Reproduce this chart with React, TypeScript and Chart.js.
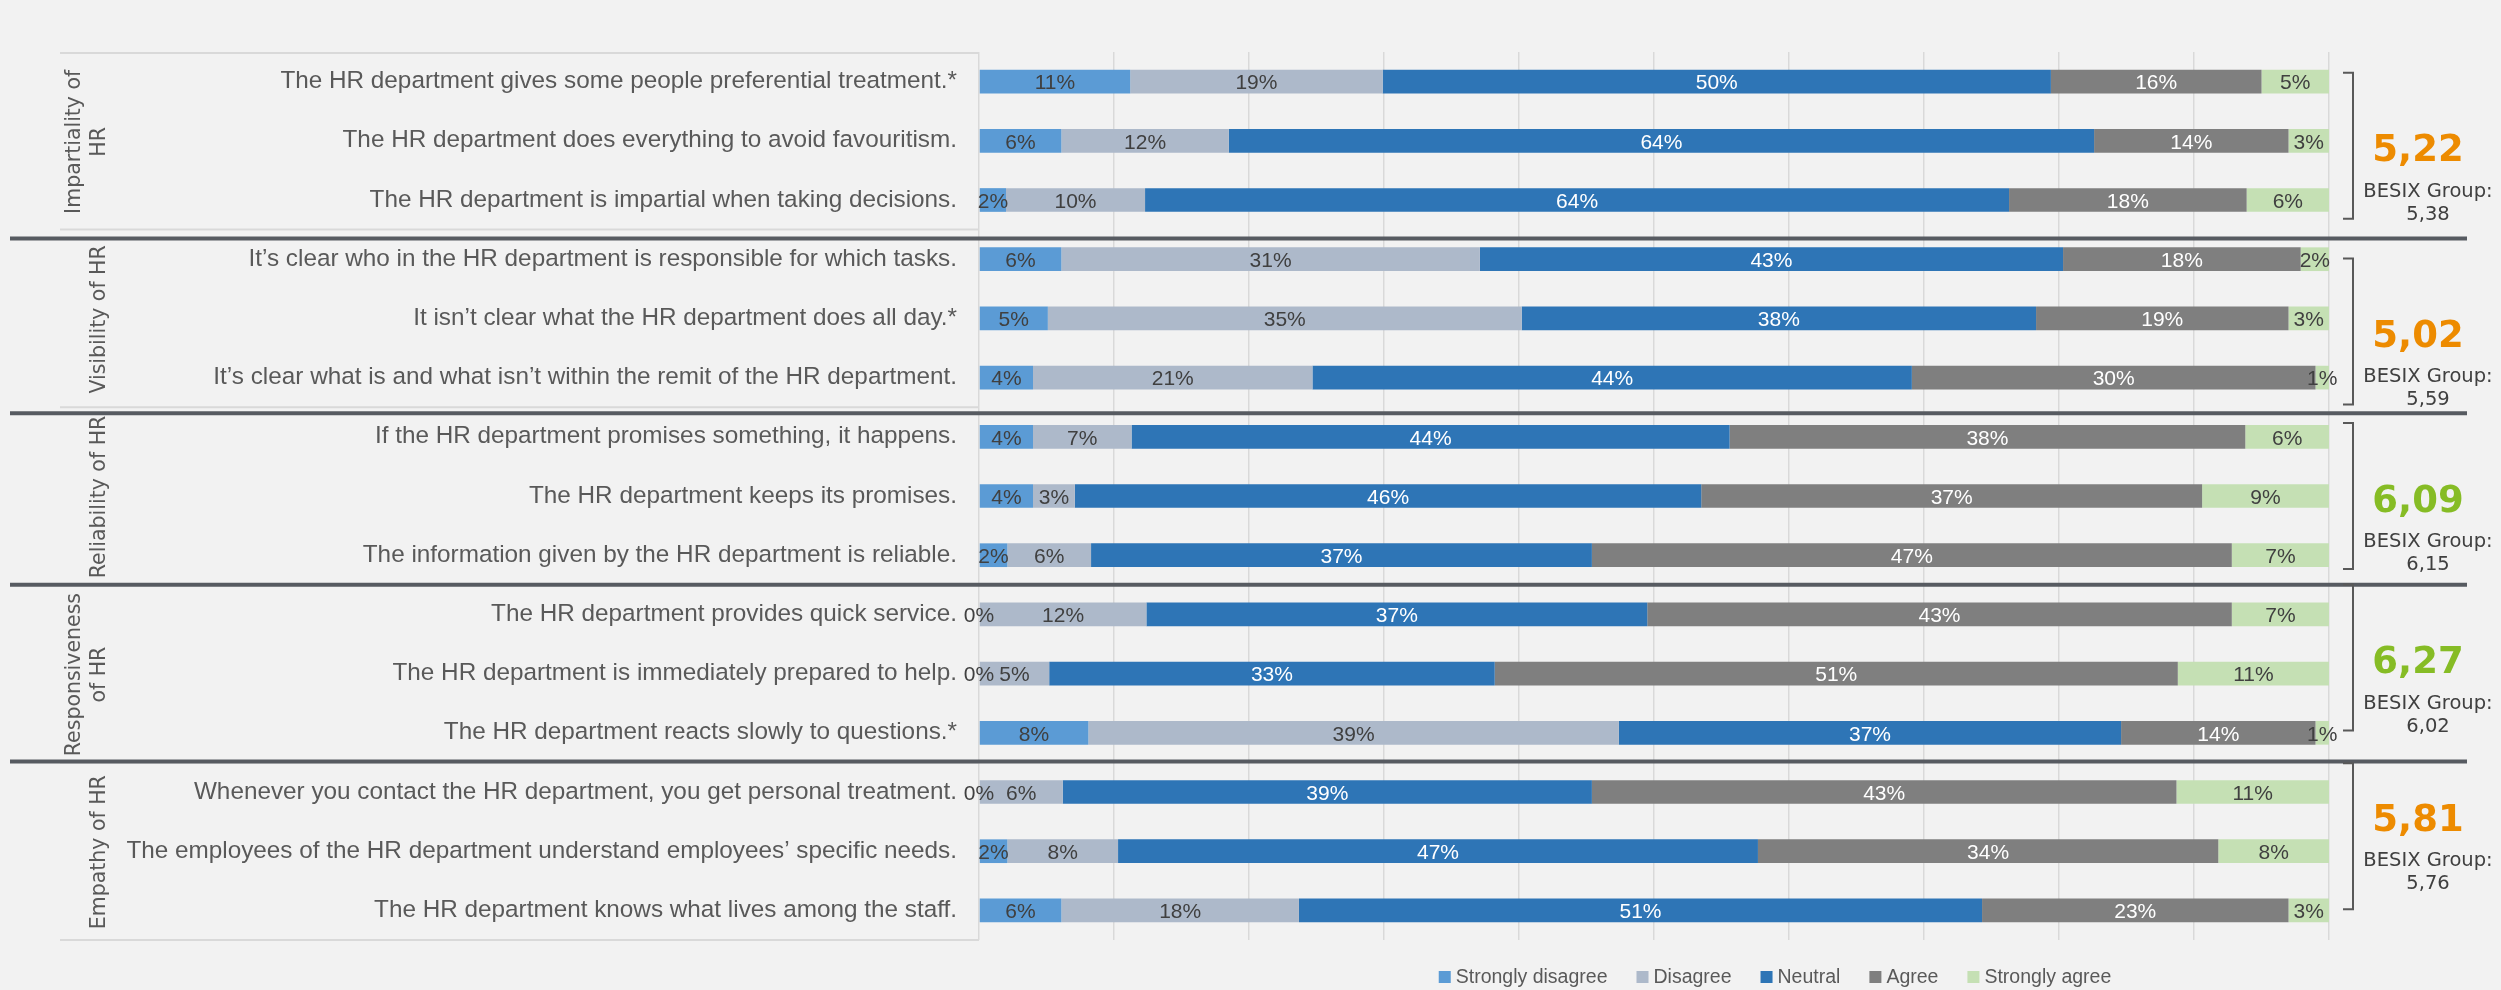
import React, { useEffect, useRef } from "react";
import { Chart, registerables } from "chart.js";

Chart.register(...registerables);

// ---------- DATA ----------
const STATEMENTS = [
  "The HR department gives some people preferential treatment.*",
  "The HR department does everything to avoid favouritism.",
  "The HR department is impartial when taking decisions.",
  "It\u2019s clear who in the HR department is responsible for which tasks.",
  "It isn\u2019t clear what the HR department does all day.*",
  "It\u2019s clear what is and what isn\u2019t within the remit of the HR department.",
  "If the HR department promises something, it happens.",
  "The HR department keeps its promises.",
  "The information given by the HR department is reliable.",
  "The HR department provides quick service.",
  "The HR department is immediately prepared to help.",
  "The HR department reacts slowly to questions.*",
  "Whenever you contact the HR department, you get personal treatment.",
  "The employees of the HR department understand employees\u2019 specific needs.",
  "The HR department knows what lives among the staff.",
];

const GROUP_LABELS = [
  ["Impartiality of", "HR"],
  ["Visibility of HR"],
  ["Reliability of HR"],
  ["Responsiveness", "of HR"],
  ["Empathy of HR"],
];
const GROUP_SIZES = [3, 3, 3, 3, 3];

const SERIES_NAMES = ["Strongly disagree", "Disagree", "Neutral", "Agree", "Strongly agree"];

const STRONGLY_DISAGREE = [11.2, 6.1, 2.0, 6.1, 5.1, 4.0, 4.0, 4.0, 2.1, 0, 0, 8.1, 0, 2.1, 6.1];
const DISAGREE = [18.7, 12.4, 10.3, 31.0, 35.1, 20.7, 7.3, 3.1, 6.2, 12.4, 5.2, 39.3, 6.2, 8.2, 17.6];
const NEUTRAL = [49.5, 64.1, 64.0, 43.2, 38.1, 44.4, 44.3, 46.4, 37.1, 37.1, 33.0, 37.2, 39.2, 47.4, 50.6];
const AGREE = [15.6, 14.4, 17.6, 17.6, 18.7, 29.9, 38.2, 37.1, 47.4, 43.3, 50.6, 14.4, 43.3, 34.1, 22.7];
const STRONGLY_AGREE = [5.0, 3.0, 6.1, 2.1, 3.0, 1.0, 6.2, 9.4, 7.2, 7.2, 11.2, 1.0, 11.3, 8.2, 3.0];

const GROUP_SCORES = ["5,22", "5,02", "6,09", "6,27", "5,81"];
const BENCHMARK_LABEL = "BESIX Group:";
const BENCHMARK_SCORES = ["5,38", "5,59", "6,15", "6,02", "5,76"];
const SCORE_THRESHOLD = 6;

// ---------- STYLE / LAYOUT ----------
const SERIES_COLORS = ["#5b9bd5", "#adb9ca", "#2e75b6", "#7f7f7f", "#c5e0b4"];
const LABEL_COLORS = ["#404040", "#404040", "#ffffff", "#ffffff", "#404040"];
const ORANGE = "#ed8b00";
const GREEN = "#86bc25";
const TEXT_GRAY = "#595959";
const DARK_TEXT = "#404040";
const SANS = '"Liberation Sans", Arial, sans-serif';
const VERDANA = '"DejaVu Sans", Verdana, sans-serif';

// small per-group pixel shifts of the right-hand decorations
const SEPARATOR_SHIFT = [9, 6, 0, -1];
const BRACKET_SHIFT = [5, 13, 0, -16, -15];
const SCORE_SHIFT = [7, 15, 2, -14, -34];

const W = 2501;
const H = 990;

function groupInfo(chart: any) {
  const y = chart.scales.y;
  const res: { start: number; end: number; top: number; bottom: number; mid: number }[] = [];
  let idx = 0;
  const half = (y.getPixelForValue(1) - y.getPixelForValue(0)) / 2;
  GROUP_SIZES.forEach((n) => {
    const start = idx;
    const end = idx + n - 1;
    const top = y.getPixelForValue(start) - half;
    const bottom = y.getPixelForValue(end) + half;
    res.push({ start, end, top, bottom, mid: (top + bottom) / 2 });
    idx += n;
  });
  return res;
}

const overlayPlugin = {
  id: "overlay",
  afterDatasetsDraw(chart: any) {
    const ctx = chart.ctx;
    ctx.save();
    ctx.font = `21px ${SANS}`;
    ctx.textAlign = "center";
    ctx.textBaseline = "middle";
    chart.data.datasets.forEach((ds: any, di: number) => {
      const meta = chart.getDatasetMeta(di);
      meta.data.forEach((el: any, i: number) => {
        const v = ds.data[i];
        const p = el.getProps(["x", "y", "base"], true);
        ctx.fillStyle = LABEL_COLORS[di];
        ctx.fillText(Math.round(v) + "%", (p.x + p.base) / 2, p.y + 2);
      });
    });
    ctx.restore();
  },
  afterDraw(chart: any) {
    const ctx = chart.ctx;
    const area = chart.chartArea;
    const groups = groupInfo(chart);
    ctx.save();

    // light label box (multi-level category axis frame)
    ctx.strokeStyle = "#d9d9d9";
    ctx.lineWidth = 2;
    const boxLeft = 60;
    ctx.beginPath();
    ctx.moveTo(boxLeft, area.top + 1);
    ctx.lineTo(area.left, area.top + 1);
    groups.forEach((g) => {
      ctx.moveTo(boxLeft, g.bottom);
      ctx.lineTo(area.left, g.bottom);
    });
    ctx.stroke();

    // group labels (rotated)
    ctx.fillStyle = TEXT_GRAY;
    ctx.font = `20.5px ${VERDANA}`;
    ctx.textAlign = "center";
    ctx.textBaseline = "alphabetic";
    groups.forEach((g, gi) => {
      const lines = GROUP_LABELS[gi];
      lines.forEach((line, li) => {
        const xBase = 105 - (lines.length - 1 - li) * 25;
        ctx.save();
        ctx.translate(xBase, g.mid + 1);
        ctx.rotate(-Math.PI / 2);
        ctx.fillText(line, 0, 0);
        ctx.restore();
      });
    });

    // dark separators between groups
    ctx.strokeStyle = "#575b61";
    ctx.lineWidth = 4;
    groups.slice(0, -1).forEach((g, gi) => {
      const yy = g.bottom + SEPARATOR_SHIFT[gi];
      ctx.beginPath();
      ctx.moveTo(10, yy);
      ctx.lineTo(area.right + 138, yy);
      ctx.stroke();
    });

    // brackets
    ctx.strokeStyle = TEXT_GRAY;
    ctx.lineWidth = 2;
    const bx = area.right + 24;
    groups.forEach((g, gi) => {
      const c = g.mid + BRACKET_SHIFT[gi];
      const t = c - 73;
      const b = c + 73;
      ctx.beginPath();
      ctx.moveTo(bx - 10, t);
      ctx.lineTo(bx, t);
      ctx.lineTo(bx, b);
      ctx.lineTo(bx - 10, b);
      ctx.stroke();
    });

    // scores
    groups.forEach((g, gi) => {
      const c = g.mid + SCORE_SHIFT[gi];
      const val = parseFloat(GROUP_SCORES[gi].replace(",", "."));
      ctx.fillStyle = val >= SCORE_THRESHOLD ? GREEN : ORANGE;
      ctx.font = `bold 37px ${VERDANA}`;
      ctx.textAlign = "center";
      ctx.textBaseline = "alphabetic";
      ctx.fillText(GROUP_SCORES[gi], area.right + 89, c + 13.5);
      ctx.fillStyle = DARK_TEXT;
      ctx.font = `19.5px ${VERDANA}`;
      ctx.fillText(BENCHMARK_LABEL, area.right + 99, c + 49);
      ctx.fillText(BENCHMARK_SCORES[gi], area.right + 99, c + 72);
    });

    // legend
    ctx.font = `19.5px ${SANS}`;
    ctx.textBaseline = "middle";
    ctx.textAlign = "left";
    const box = 12;
    const gapAfterBox = 5;
    const gapItems = 29;
    const widths = SERIES_NAMES.map((n) => ctx.measureText(n).width);
    const total =
      widths.reduce((a, b) => a + b, 0) + SERIES_NAMES.length * (box + gapAfterBox) + (SERIES_NAMES.length - 1) * gapItems;
    const center = (area.left + area.right) / 2 + 121;
    let lx = center - total / 2;
    const ly = area.bottom + 37;
    SERIES_NAMES.forEach((n, i) => {
      ctx.fillStyle = SERIES_COLORS[i];
      ctx.fillRect(lx, ly - box / 2, box, box);
      lx += box + gapAfterBox;
      ctx.fillStyle = TEXT_GRAY;
      ctx.fillText(n, lx, ly + 1);
      lx += widths[i] + gapItems;
    });

    ctx.restore();
  },
};

export default function App() {
  const ref = useRef<HTMLCanvasElement | null>(null);

  useEffect(() => {
    if (!ref.current) return;
    const series = [STRONGLY_DISAGREE, DISAGREE, NEUTRAL, AGREE, STRONGLY_AGREE];
    const chart = new Chart(ref.current, {
      type: "bar",
      data: {
        labels: STATEMENTS,
        datasets: series.map((d, i) => ({
          label: SERIES_NAMES[i],
          data: d,
          backgroundColor: SERIES_COLORS[i],
          borderWidth: 0,
          barPercentage: 0.4,
          categoryPercentage: 1.0,
        })),
      },
      options: {
        indexAxis: "y",
        responsive: false,
        animation: false,
        devicePixelRatio: 1,
        layout: { padding: { left: 0, right: 172, top: 52, bottom: 50 } },
        plugins: {
          legend: { display: false },
          tooltip: { enabled: false },
        },
        scales: {
          x: {
            stacked: true,
            min: 0,
            max: 100,
            ticks: { display: false, stepSize: 10 },
            grid: { color: "#d9d9d9", lineWidth: 1.5, drawTicks: false },
            border: { display: false },
            afterFit: (s: any) => {
              s.height = 0;
            },
          },
          y: {
            stacked: true,
            grid: { display: false, drawTicks: false },
            border: { display: false },
            ticks: {
              color: TEXT_GRAY,
              font: { family: SANS, size: 24.3 },
              padding: 22,
              autoSkip: false,
            },
            afterFit: (s: any) => {
              s.width = 979;
            },
          },
        },
      } as any,
      plugins: [overlayPlugin],
    });
    return () => chart.destroy();
  }, []);

  return (
    <div
      style={{
        position: "absolute",
        left: 0,
        top: 0,
        width: W,
        height: H,
        background: "#f2f2f2",
        overflow: "hidden",
      }}
    >
      <canvas ref={ref} width={W} height={H} style={{ display: "block", width: W, height: H }} />
    </div>
  );
}
